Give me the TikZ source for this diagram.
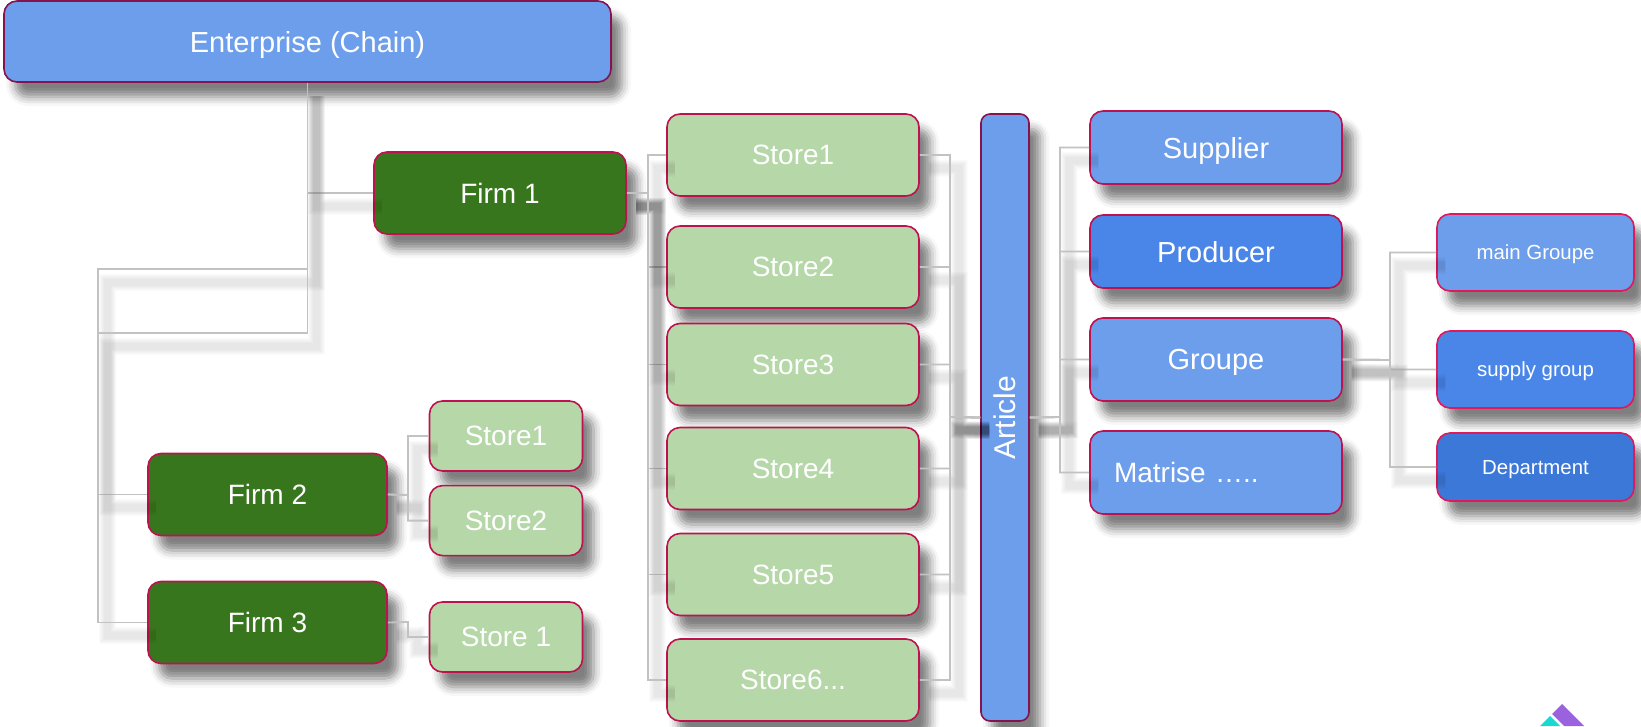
\documentclass[tikz,border=0pt]{standalone}
\usepackage{fontspec}
\setmainfont{Liberation Sans}
\usetikzlibrary{
    positioning,
    shadows.blur
}
\definecolor{plainblue}{HTML}{6D9EEB}
\definecolor{midblue}{HTML}{4A86E8}
\definecolor{deepblue}{HTML}{3C78D8}
\definecolor{firmgreen}{HTML}{38761D}
\definecolor{storegreen}{HTML}{B6D7A8}
\definecolor{darkrim}{HTML}{85134F}
\definecolor{redrim}{HTML}{BE1250}
\definecolor{pinkrim}{HTML}{E0185C}
\definecolor{linkgray}{HTML}{C2C2C2}
\definecolor{logoteal}{HTML}{1CD8D2}
\definecolor{logoviolet}{HTML}{9B62DF}
\tikzset{
    % Box styles
    base box/.style={
        draw=redrim,
        line width=1.6pt,
        rectangle,
        rounded corners=13pt,
        text=white,
        text depth=0pt,
        align=center,
        inner sep=0pt,
        blur shadow={
            shadow xshift=11pt,
            shadow yshift=-15pt,
            shadow blur radius=9pt,
            shadow opacity=50
        }
    },
    firm box/.style={
        base box,
        fill=firmgreen,
        minimum height=82pt,
        font=\fontsize{28}{30}\selectfont
    },
    store box/.style={
        base box,
        fill=storegreen,
        font=\fontsize{28}{30}\selectfont
    },
    big store/.style={
        store box,
        minimum width=252pt,
        minimum height=82pt
    },
    small store/.style={
        store box,
        minimum width=153pt,
        minimum height=70pt
    },
    ref box/.style={
        base box,
        fill=plainblue,
        minimum width=252pt,
        font=\fontsize{29}{31}\selectfont
    },
    group box/.style={
        base box,
        draw=pinkrim,
        minimum width=197pt,
        font=\fontsize{20.4}{22}\selectfont
    },
    % Connector style
    soft/.style={
        preaction={draw=black, opacity=.016, line width=#1,
            transform canvas={xshift=9pt, yshift=-13pt}}
    },
    link/.style={
        draw=linkgray,
        line width=1.8pt,
        soft=17pt, soft=15pt, soft=13pt, soft=11pt, soft=9pt, soft=7pt
    }
}

\begin{document}
\begin{tikzpicture}[x=1pt, y=-1pt]
    \useasboundingbox (0,0) rectangle (1641,726);

    % Left side
    \node[base box, draw=darkrim, fill=plainblue, minimum width=607pt, minimum height=81pt,
        font=\fontsize{29}{31}\selectfont] (enterprise) at (307.5,41.5) {Enterprise (Chain)};
    \node[firm box, minimum width=252pt] (firmA) at (500,193) {Firm 1};
    \node[firm box, minimum width=239pt] (firmB) at (267.5,494.5) {Firm 2};
    \node[firm box, minimum width=239pt] (firmC) at (267.5,622.5) {Firm 3};

    \node[small store] (smallA) at (506,436) {Store1};
    \node[small store] (smallB) [below=13pt of smallA] {Store2};
    \node[small store] (smallC) at (506,637) {Store 1};

    % Store column
    \node[big store] (storeA) at (793,155) {Store1};
    \node[big store] (storeB) at (793,267) {Store2};
    \node[big store] (storeC) at (793,364.5) {Store3};
    \node[big store] (storeD) at (793,468.5) {Store4};
    \node[big store] (storeE) at (793,574.5) {Store5};
    \node[big store] (storeF) at (793,680) {Store6...};

    % Article and what hangs on it
    \node[base box, draw=darkrim, fill=plainblue, rounded corners=9pt, minimum width=48pt, minimum height=607pt] (article) at (1005,417.5) {};
    \node[text=white, rotate=90, font=\fontsize{30}{32}\selectfont] (articletext) at (article.center) {Article};

    \node[ref box, minimum height=73pt] (supplier) at (1216,147.5) {Supplier};
    \node[ref box, fill=midblue, minimum height=73pt] (producer) at (1216,251.5) {Producer};
    \node[ref box, minimum height=83pt] (groupe) at (1216,359.5) {Groupe};
    \node[ref box, minimum height=83pt, align=left, text width=204pt,
        font=\fontsize{28}{30}\selectfont] (matrise) at (1216,472.5) {Matrise …..};

    \node[group box, fill=plainblue, minimum height=77pt] (maingroup) at (1535.5,252.5) {main Groupe};
    \node[group box, fill=midblue, minimum height=77pt] (supplygroup) at (1535.5,369.5) {supply group};
    \node[group box, fill=deepblue, minimum height=68pt] (department) at (1535.5,467) {Department};

    % Corner of the logo
    \fill[logoteal] (1540,726) -- (1550,716) -- (1560,726) -- cycle;
    \fill[logoviolet] (1552,714) -- (1562,704) -- (1584,726) -- (1564,726) -- cycle;

    % Bends of the connectors
    \coordinate (lowA) at (98,269);
    \coordinate (lowB) at (98,333);
    \coordinate (firmbus) at (648,193);
    \coordinate (smallbus) at (408,495);
    \coordinate (lastbus) at (408,622);
    \coordinate (articlein) at (950,417);
    \coordinate (articleout) at (1060,417);
    \coordinate (groupbus) at (1390,360);

    % Connectors
    \draw[link] (enterprise.south) |- (firmA.west);
    \draw[link] (enterprise.south) |- (lowA) |- (firmB.west);
    \draw[link] (enterprise.south) |- (lowB) |- (firmC.west);

    \foreach \s in {storeA,storeB,storeC,storeD,storeE,storeF} {
        \draw[link] (firmA.east) -- (firmbus) |- (\s.west);
        \draw[link] (\s.east) -| (articlein) -- (article.west);
    }
    \foreach \s in {supplier,producer,groupe,matrise} {
        \draw[link] (article.east) -- (articleout) |- (\s.west);
    }
    \foreach \s in {maingroup,supplygroup,department} {
        \draw[link] (groupe.east) -- (groupbus) |- (\s.west);
    }
    \foreach \s in {smallA,smallB} {
        \draw[link] (firmB.east) -- (smallbus) |- (\s.west);
    }
    \draw[link] (firmC.east) -- (lastbus) |- (smallC.west);
\end{tikzpicture}
\end{document}
